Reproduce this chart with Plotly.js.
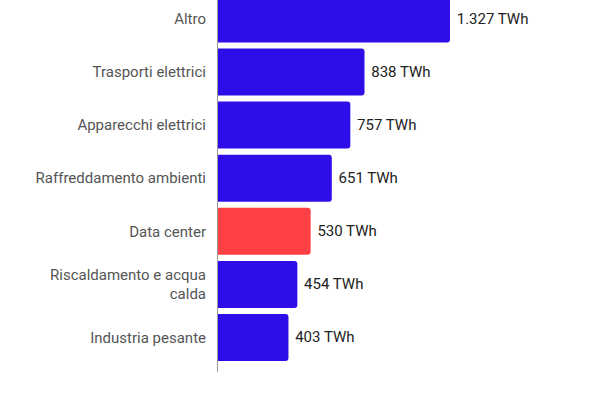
<!DOCTYPE html>
<html>
<head>
<meta charset="utf-8">
<script src="https://cdn.plot.ly/plotly-3.0.1.min.js"></script>
<style>
  html, body { margin: 0; padding: 0; background: #fff; }
  #chart { width: 600px; height: 400px; }
</style>
</head>
<body>
<div id="chart"></div>
<script>
// consumi elettrici per uso finale, TWh
const categories = [
    'Altro',
    'Trasporti elettrici',
    'Apparecchi elettrici',
    'Raffreddamento ambienti',
    'Data center',
    'Riscaldamento e acqua<br>calda',
    'Industria pesante'
];
const values = [1327, 838, 757, 651, 530, 454, 403];
const highlight = 'Data center';

const barColors = categories.map(c => c === highlight ? '#FF4045' : '#2E0EE8');

const data = [
    {
        type: 'bar',
        orientation: 'h',
        y: categories,
        x: values,
        marker: {color: barColors, cornerradius: 3},
        texttemplate: '\u00a0%{x:,d} TWh',
        textposition: 'outside',
        textfont: {family: 'Roboto', size: 15, color: '#222'},
        cliponaxis: false,
        hoverinfo: 'none'
    }
];

const layout = {
    width: 600,
    height: 400,
    separators: ',.',
    font: {family: 'Roboto', size: 15, color: '#555'},
    paper_bgcolor: '#fff',
    plot_bgcolor: '#fff',
    showlegend: false,
    bargap: 0.115,
    margin: {l: 218, r: 10, t: 0, b: 28, pad: 0},
    xaxis: {
        range: [0, 2128],
        visible: false,
        fixedrange: true
    },
    yaxis: {
        type: 'category',
        range: [6.65, -0.356],
        showline: true,
        linecolor: '#999',
        linewidth: 1,
        showgrid: false,
        zeroline: false,
        ticks: '',
        ticklabelstandoff: 8,
        tickfont: {family: 'Roboto', size: 15, color: '#555'},
        fixedrange: true
    }
};

Plotly.newPlot('chart', data, layout, {displayModeBar: false, staticPlot: true});
</script>
</body>
</html>
